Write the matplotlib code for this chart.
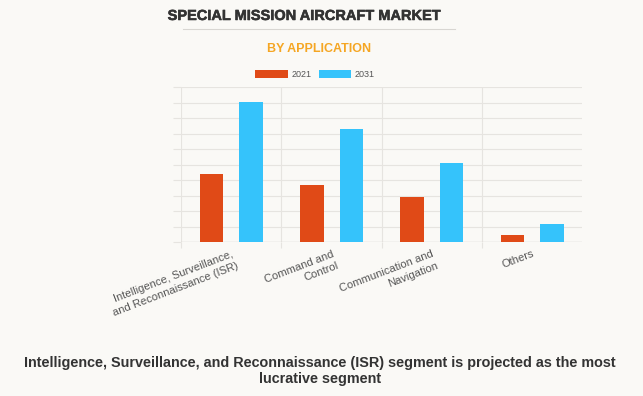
import numpy as np
import matplotlib
matplotlib.use("Agg")
import matplotlib.pyplot as plt
import matplotlib.patheffects as pe
from matplotlib.lines import Line2D

plt.rcParams['font.family'] = ['Liberation Sans', 'DejaVu Sans']

# data (arbitrary units - axis has no labels)
categories = ["Intelligence, Surveillance,\nand Reconnaissance (ISR)",
              "Command and\nControl",
              "Communication and\nNavigation",
              "Others"]
years = ["2021", "2031"]
values_2021 = [4.39, 3.66, 2.88, 0.47]
values_2031 = [9.03, 7.27, 5.10, 1.16]

bg = '#faf9f6'
grid_col = '#e6e4e0'
colors = ['#e04a17', '#35c3fb']

fig = plt.figure(figsize=(6.43, 3.96), dpi=100, facecolor=bg)
ax = fig.add_axes([181 / 643, 1 - 242 / 396, 401 / 643, 155 / 396])
ax.set_facecolor(bg)

x = np.arange(len(categories))
w = 0.235
b1 = ax.bar(x - 0.195, values_2021, w, color=colors[0], label=years[0], zorder=3)
b2 = ax.bar(x + 0.2, values_2031, w, color=colors[1], label=years[1], zorder=3)

ax.set_xlim(-0.5, 3.5)
ax.set_ylim(0, 10)
ax.set_yticks(np.arange(0, 11, 1))
ax.set_yticklabels([])
ax.tick_params(axis='y', length=6, color=grid_col, width=0.8)
ax.yaxis.grid(True, color=grid_col, linewidth=0.8, zorder=0)
ax.axhline(0, color='#cfcdc9', linewidth=0.9, zorder=2)

ax.set_xticks(x)
ax.set_xticklabels(categories, rotation=21, ha='right', rotation_mode='anchor',
                   multialignment='right', fontsize=8, color='#555555',
                   linespacing=1.35)
ax.tick_params(axis='x', which='major', length=0, pad=5)
ax.set_xticks([-0.5, 0.5, 1.5, 2.5], minor=True)
ax.tick_params(axis='x', which='minor', length=4, color=grid_col, width=0.8)
ax.xaxis.grid(True, which='minor', color=grid_col, linewidth=0.8, zorder=0)

for s in ax.spines.values():
    s.set_visible(False)

# titles
fig.text(305 / 643, 1 - 16 / 396, "SPECIAL MISSION AIRCRAFT MARKET", ha='center', va='center',
         fontsize=10.5, fontweight='heavy', color='#333333',
         path_effects=[pe.withStroke(linewidth=0.4, foreground='#333333')])
fig.add_artist(Line2D([183 / 643, 455 / 643], [1 - 29 / 396, 1 - 29 / 396],
                      color='#d8d6d2', linewidth=0.8))
fig.text(319 / 643, 1 - 49 / 396, "BY APPLICATION", ha='center', va='center',
         fontsize=9, fontweight='bold', color='#f5a623')

fig.legend(handles=[b1, b2], labels=years, loc='center',
           bbox_to_anchor=(315 / 643, 1 - 74.5 / 396), ncol=2, frameon=False,
           fontsize=6.5, handlelength=3.6, handleheight=1.1,
           handletextpad=0.4, columnspacing=0.8, labelcolor='#555555')

fig.text(320 / 643, 1 - 371 / 396,
         "Intelligence, Surveillance, and Reconnaissance (ISR) segment is projected as the most\nlucrative segment",
         ha='center', va='center', fontsize=10.4, fontweight='bold', color='#333333',
         linespacing=1.15)

fig.savefig('out.png', dpi=100, facecolor=bg)
